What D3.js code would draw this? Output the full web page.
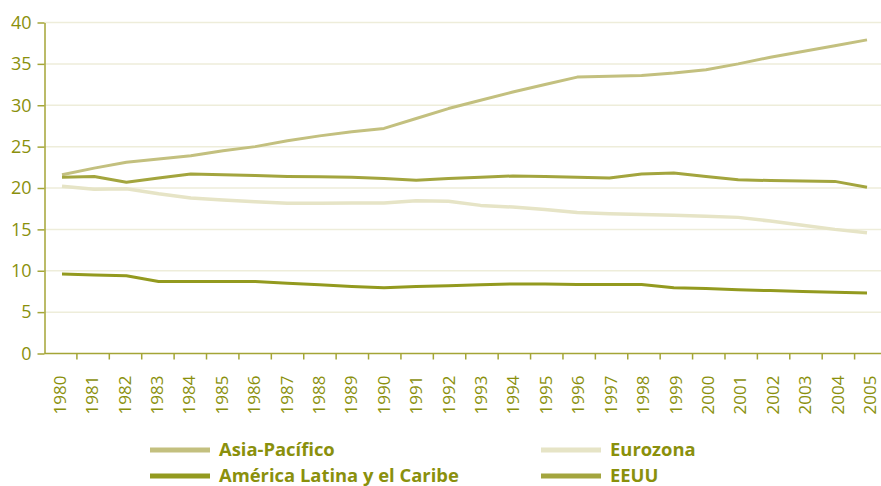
<!DOCTYPE html>
<html>
<head>
<meta charset="utf-8">
<script src="https://cdn.jsdelivr.net/npm/d3@7"></script>
<style>
  html, body { margin: 0; padding: 0; background: #fff; }
  svg { display: block; }
</style>
</head>
<body>
<svg id="chart" width="881" height="486"></svg>
<script>
const years = d3.range(1980, 2006);
const yTicks = [0, 5, 10, 15, 20, 25, 30, 35, 40];

const asiaPacifico = [21.6, 22.4, 23.1, 23.5, 23.9, 24.5, 25.0, 25.7, 26.3, 26.8, 27.2, 28.4, 29.6, 30.6, 31.6, 32.5, 33.4, 33.5, 33.6, 33.9, 34.3, 35.0, 35.8, 36.5, 37.2, 37.9];
const eurozona = [20.2, 19.85, 19.9, 19.3, 18.8, 18.55, 18.35, 18.15, 18.15, 18.2, 18.2, 18.45, 18.4, 17.9, 17.7, 17.4, 17.05, 16.9, 16.8, 16.7, 16.6, 16.45, 16.0, 15.5, 15.0, 14.6];
const americaLatina = [9.6, 9.5, 9.4, 8.7, 8.7, 8.7, 8.7, 8.5, 8.3, 8.1, 7.95, 8.1, 8.2, 8.3, 8.4, 8.4, 8.35, 8.35, 8.35, 7.95, 7.85, 7.7, 7.6, 7.5, 7.4, 7.3];
const eeuu = [21.3, 21.4, 20.7, 21.2, 21.7, 21.6, 21.5, 21.4, 21.35, 21.3, 21.15, 20.95, 21.15, 21.3, 21.45, 21.4, 21.3, 21.2, 21.7, 21.8, 21.4, 21.0, 20.9, 20.85, 20.8, 20.1];

const seriesNames = ["Asia-Pacífico", "Eurozona", "América Latina y el Caribe", "EEUU"];
const seriesColors = ["#c3c07f", "#e6e4c6", "#939a1f", "#a3a53e"];
const seriesValues = [asiaPacifico, eurozona, americaLatina, eeuu];

(function () {
const textColor = "#8a900c";
const axisColor = "#a4a536";
const gridColor = "#eeedda";

const svg = d3.select("#chart");

const mLeft = 44.5, mRight = 887, mTop = 22.5, mBottom = 353.5;

const y = d3.scaleLinear().domain([0, 40]).range([mBottom, mTop]);
const xBand = d3.scaleBand().domain(years).range([mLeft, mRight]).paddingInner(0).paddingOuter(0);
const xLine = d3.scaleLinear().domain([1980, 2005]).range([62, 867]);

// Gridlines
svg.append("g")
  .selectAll("line")
  .data(yTicks.filter(d => d > 0))
  .join("line")
  .attr("x1", mLeft)
  .attr("x2", 881)
  .attr("y1", d => y(d))
  .attr("y2", d => y(d))
  .attr("stroke", gridColor)
  .attr("stroke-width", 1.5);

// Y axis
const yAxis = svg.append("g")
  .attr("transform", `translate(${mLeft},0)`)
  .call(d3.axisLeft(y).tickValues(yTicks).tickSize(7).tickPadding(6).tickSizeOuter(0));
yAxis.select(".domain").attr("stroke", axisColor).attr("stroke-width", 1.5);
yAxis.selectAll(".tick line").attr("stroke", axisColor).attr("stroke-width", 1.5);
yAxis.selectAll(".tick text")
  .attr("fill", textColor)
  .style("font-family", "'Open Sans', sans-serif")
  .style("font-size", "18px");

// X axis (band boundaries as ticks)
const xAxisG = svg.append("g")
  .attr("transform", `translate(0,${mBottom})`);
xAxisG.append("line")
  .attr("x1", mLeft).attr("x2", 881)
  .attr("y1", 0).attr("y2", 0)
  .attr("stroke", axisColor).attr("stroke-width", 1.5);
xAxisG.selectAll("line.tk")
  .data(years.slice(1))
  .join("line")
  .attr("class", "tk")
  .attr("x1", d => xBand(d))
  .attr("x2", d => xBand(d))
  .attr("y1", 0).attr("y2", 6)
  .attr("stroke", axisColor).attr("stroke-width", 1.5);
xAxisG.selectAll("text")
  .data(years)
  .join("text")
  .attr("transform", d => `translate(${xBand(d) + xBand.bandwidth() / 2 - 1},22) rotate(-90)`)
  .attr("text-anchor", "end")
  .attr("dy", "0.36em")
  .attr("fill", textColor)
  .style("font-family", "'Open Sans', sans-serif")
  .style("font-size", "17px")
  .text(d => d);

// Lines
const line = d3.line()
  .x((d, i) => xLine(years[i]))
  .y(d => y(d));

const drawOrder = [1, 0, 3, 2];
svg.append("g")
  .selectAll("path")
  .data(drawOrder)
  .join("path")
  .attr("d", k => line(seriesValues[k]))
  .attr("fill", "none")
  .attr("stroke", k => seriesColors[k])
  .attr("stroke-width", k => k === 1 ? 3.5 : 3)
  .attr("stroke-linejoin", "round");

// Legend
const legendItems = [
  { k: 0, x: 150, y: 450 },
  { k: 2, x: 150, y: 476 },
  { k: 1, x: 541, y: 450 },
  { k: 3, x: 541, y: 476 }
];
const lg = svg.append("g").selectAll("g").data(legendItems).join("g")
  .attr("transform", d => `translate(${d.x},${d.y})`);
lg.append("line")
  .attr("x1", 0).attr("x2", 60)
  .attr("y1", 0).attr("y2", 0)
  .attr("stroke", d => seriesColors[d.k])
  .attr("stroke-width", 5);
lg.append("text")
  .attr("x", 69)
  .attr("y", 0)
  .attr("dy", "0.35em")
  .attr("fill", textColor)
  .style("font-family", "'Open Sans', sans-serif")
  .style("font-weight", "bold")
  .style("font-size", "18.4px")
  .text(d => seriesNames[d.k]);
})();
</script>
</body>
</html>
